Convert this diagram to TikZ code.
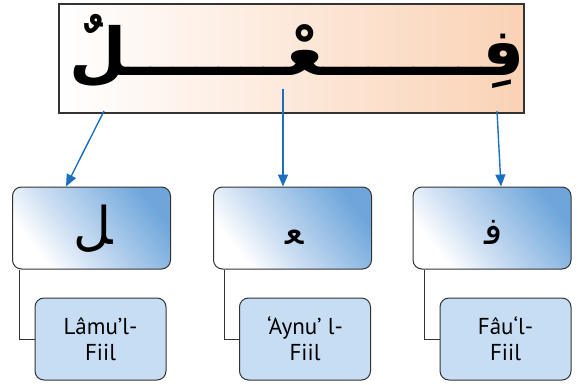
\documentclass[tikz,border=0pt]{standalone}
\usepackage{fontspec}
\setmainfont{PT Sans}
\newfontfamily\arabicfont[Script=Arabic]{DejaVu Sans}
\TeXXeTstate=1
\usetikzlibrary{arrows.meta}
\definecolor{peach}{HTML}{FAD2B5}
\definecolor{boxblue}{HTML}{6EA6DB}
\definecolor{paleblue}{HTML}{CFE0F3}
\definecolor{lightbox}{HTML}{C6DDF3}
\definecolor{arrowblue}{HTML}{1B6FBE}
\definecolor{edge}{HTML}{333333}
\pgfdeclareverticalshading{ushade}{100bp}{color(0bp)=(white); color(27bp)=(white); color(42bp)=(paleblue); color(75bp)=(boxblue); color(100bp)=(boxblue)}
\begin{document}
\begin{tikzpicture}[x=1pt,y=1pt,
  upperbox/.style={draw=edge, line width=1pt, rounded corners=9pt,
    minimum width=158pt, minimum height=82pt, inner sep=0pt,
    shading=ushade, shading angle=-52},
  lowerbox/.style={draw=edge, line width=1pt, rounded corners=9pt,
    fill=lightbox, minimum width=131pt, minimum height=82pt, inner sep=0pt,
    align=center, font=\fontsize{23}{26}\selectfont},
  letter/.style={anchor=base, inner sep=0pt, font=\arabicfont\fontsize{38}{38}\selectfont},
  link/.style={draw=edge, line width=1pt},
  pointer/.style={draw=arrowblue, line width=1.4pt, -{Triangle[length=12pt,width=10pt]}}]
\useasboundingbox (0,0) rectangle (578,-385);

% top banner
\node[draw=edge, line width=2pt, left color=white, right color=peach,
  minimum width=465pt, minimum height=109pt, inner sep=0pt] (top) at (291.5,-58.5) {};
\node[anchor=base, inner sep=0pt, font=\arabicfont\bfseries\fontsize{66}{66}\selectfont] (word) at (297,-76)
  {\beginR فِـــــــعْـــــــلٌ\endR};

% upper boxes
\node[upperbox] (u1) at (91.5,-228) {};
\node[upperbox] (u2) at (292.5,-228) {};
\node[upperbox] (u3) at (492,-228) {};

\node[letter, font=\arabicfont\fontsize{52}{52}\selectfont] (t1) at (93,-244) {\beginR ^^^^200dل\endR};
\node[letter] (t2) at (295,-244) {\beginR ^^^^200dع^^^^200d\endR};
\node[letter] (t3) at (494,-244) {\beginR ف^^^^200d\endR};

% lower boxes
\node[lowerbox] (l1) at (100.5,-339) {Lâmu’l-\\Fiil};
\node[lowerbox] (l2) at (305,-339) {‘Aynu’ l-\\Fiil};
\node[lowerbox] (l3) at (505.5,-339) {Fâu‘l-\\Fiil};

% connectors
\draw[link] ([xshift=7pt]u1.south west) |- (l1.west);
\draw[link] ([xshift=11pt]u2.south west) |- (l2.west);
\draw[link] ([xshift=12pt]u3.south west) |- (l3.west);

% arrows
\coordinate (a1s) at (104,-111);
\coordinate (a2s) at (283,-89);
\coordinate (a3s) at (497,-111);
\draw[pointer] (a1s) -- ([xshift=54pt]u1.north west);
\draw[pointer] (a2s) -- ([xshift=-9.5pt]u2.north);
\draw[pointer] (a3s) -- ([xshift=9pt]u3.north);
\end{tikzpicture}
\end{document}
